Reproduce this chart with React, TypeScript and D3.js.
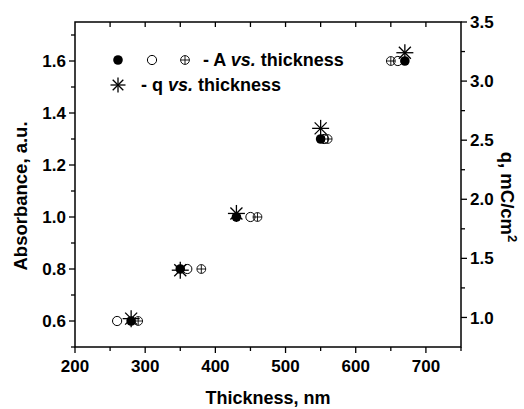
import React from "react";
import * as d3 from "d3";

// Data
const thickFilled = [280, 350, 430, 550, 670];
const absFilled = [0.6, 0.8, 1.0, 1.3, 1.6];
const thickOpen = [260, 360, 450, 555, 660];
const absOpen = [0.6, 0.8, 1.0, 1.3, 1.6];
const thickCross = [290, 380, 460, 560, 650];
const absCross = [0.6, 0.8, 1.0, 1.3, 1.6];
const thickQ = [280, 350, 430, 550, 670];
const qVals = [0.99, 1.4, 1.88, 2.6, 3.24];

const xMajor = [200, 300, 400, 500, 600, 700];
const xMinor = [250, 350, 450, 550, 650, 750];
const yLMajor = [0.6, 0.8, 1.0, 1.2, 1.4, 1.6];
const yLMinor = [0.5, 0.7, 0.9, 1.1, 1.3, 1.5, 1.7];
const yRMajor = [1.0, 1.5, 2.0, 2.5, 3.0, 3.5];
const yRMinor = [1.25, 1.75, 2.25, 2.75, 3.25];

const W = 524, H = 409;
const L = 75, R = 461, T = 22, B = 347;

const x = d3.scaleLinear().domain([200, 750]).range([L, R]);
const yL = d3.scaleLinear().domain([0.5, 1.75]).range([B, T]);
const yR = d3.scaleLinear().domain([0.75, 3.5]).range([B, T]);

const font = "'Liberation Sans', Arial, Helvetica, sans-serif";

function Asterisk({ cx, cy, s = 8.5 }: { cx: number; cy: number; s?: number }) {
  const d = 0.7071 * s;
  return (
    <g stroke="#000" strokeWidth={1.3}>
      <line x1={cx - s} y1={cy} x2={cx + s} y2={cy} />
      <line x1={cx} y1={cy - s} x2={cx} y2={cy + s} />
      <line x1={cx - d} y1={cy - d} x2={cx + d} y2={cy + d} />
      <line x1={cx - d} y1={cy + d} x2={cx + d} y2={cy - d} />
    </g>
  );
}

function Crossed({ cx, cy, r = 4.4 }: { cx: number; cy: number; r?: number }) {
  return (
    <g stroke="#000" strokeWidth={0.9} fill="none">
      <circle cx={cx} cy={cy} r={r} />
      <line x1={cx - r} y1={cy} x2={cx + r} y2={cy} />
      <line x1={cx} y1={cy - r} x2={cx} y2={cy + r} />
    </g>
  );
}

export default function App() {
  const fmt1 = d3.format(".1f");
  return (
    <svg
      width={W}
      height={H}
      style={{ position: "absolute", left: 0, top: 0, background: "#fff" }}
      fontFamily={font}
      fontWeight="bold"
    >
      <rect x={0} y={0} width={W} height={H} fill="#fff" />
      {/* frame */}
      <rect x={L} y={T} width={R - L} height={B - T} fill="none" stroke="#000" strokeWidth={1.5} />

      {/* bottom ticks */}
      {xMajor.map((v) => (
        <line key={"xb" + v} x1={x(v)} x2={x(v)} y1={B} y2={B + 6} stroke="#000" strokeWidth={1.3} />
      ))}
      {xMinor.map((v) => (
        <line key={"xbm" + v} x1={x(v)} x2={x(v)} y1={B} y2={B + 4} stroke="#000" strokeWidth={1.3} />
      ))}
      {xMajor.map((v) => (
        <text key={"xl" + v} x={x(v)} y={372} textAnchor="middle" fontSize={17}>
          {v}
        </text>
      ))}
      {/* top ticks (inward) */}
      {[...xMajor, ...xMinor].filter((v) => v > 200 && v < 750).map((v) => (
        <line key={"xt" + v} x1={x(v)} x2={x(v)} y1={T} y2={T + 5} stroke="#000" strokeWidth={1.3} />
      ))}

      {/* left ticks */}
      {yLMajor.map((v) => (
        <line key={"yl" + v} x1={L - 6} x2={L} y1={yL(v)} y2={yL(v)} stroke="#000" strokeWidth={1.3} />
      ))}
      {yLMinor.map((v) => (
        <line key={"ylm" + v} x1={L - 4} x2={L} y1={yL(v)} y2={yL(v)} stroke="#000" strokeWidth={1.3} />
      ))}
      {yLMajor.map((v) => (
        <text key={"yll" + v} x={66} y={yL(v)} dy="0.36em" textAnchor="end" fontSize={17}>
          {fmt1(v)}
        </text>
      ))}

      {/* right ticks */}
      {yRMajor.map((v) => (
        <line key={"yr" + v} x1={R} x2={R + 6} y1={yR(v)} y2={yR(v)} stroke="#000" strokeWidth={1.3} />
      ))}
      {yRMinor.map((v) => (
        <line key={"yrm" + v} x1={R} x2={R + 4} y1={yR(v)} y2={yR(v)} stroke="#000" strokeWidth={1.3} />
      ))}
      {yRMajor.map((v) => (
        <text key={"yrl" + v} x={470} y={yR(v)} dy="0.36em" textAnchor="start" fontSize={17}>
          {fmt1(v)}
        </text>
      ))}

      {/* axis titles */}
      <text x={(L + R) / 2} y={404} textAnchor="middle" fontSize={18}>
        Thickness, nm
      </text>
      <text transform={`translate(27,196) rotate(-90)`} textAnchor="middle" fontSize={18.5}>
        Absorbance, a.u.
      </text>
      <text transform={`translate(501,197) rotate(90)`} textAnchor="middle" fontSize={18.5}>
        q, mC/cm<tspan dy="-7" fontSize={13}>2</tspan>
      </text>

      {/* data */}
      {thickCross.map((t, i) => (
        <Crossed key={"c" + i} cx={x(t)} cy={yL(absCross[i])} />
      ))}
      {thickOpen.map((t, i) => (
        <circle key={"o" + i} cx={x(t)} cy={yL(absOpen[i])} r={4.6} fill="none" stroke="#000" strokeWidth={1} />
      ))}
      {thickFilled.map((t, i) => (
        <circle key={"f" + i} cx={x(t)} cy={yL(absFilled[i])} r={4.8} fill="#000" />
      ))}
      {thickQ.map((t, i) => (
        <Asterisk key={"q" + i} cx={x(t)} cy={yR(qVals[i])} />
      ))}

      {/* legend */}
      <circle cx={118} cy={60} r={4.8} fill="#000" />
      <circle cx={152} cy={60} r={4.6} fill="none" stroke="#000" strokeWidth={1} />
      <Crossed cx={185} cy={60} />
      <text x={203} y={60} dy="0.36em" fontSize={18}>
        - A <tspan fontStyle="italic">vs.</tspan> thickness
      </text>
      <Asterisk cx={118} cy={85} s={7.5} />
      <text x={141} y={85} dy="0.36em" fontSize={18}>
        - q <tspan fontStyle="italic">vs.</tspan> thickness
      </text>
    </svg>
  );
}
